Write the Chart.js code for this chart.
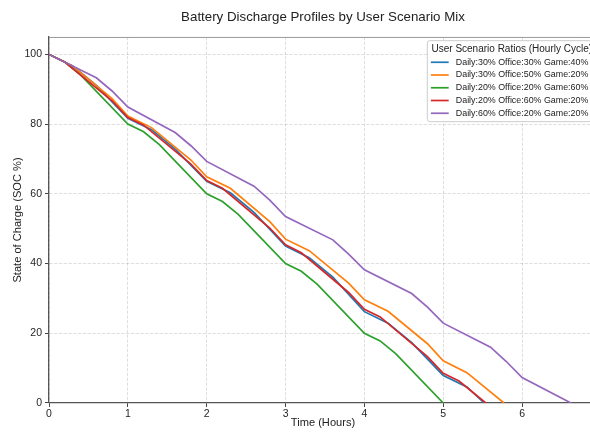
<!DOCTYPE html>
<html>
<head>
<meta charset="utf-8">
<script src="https://cdn.jsdelivr.net/npm/chart.js@4.4.1/dist/chart.umd.min.js"></script>
<style>
  html, body { margin: 0; padding: 0; background: #fff; overflow: hidden; }
  #wrap { width: 590px; height: 435px; overflow: hidden; }
</style>
</head>
<body>
<div id="wrap"><canvas id="dischargeChart" width="597" height="435"></canvas></div>
<script>
// Scenario names (legend) and colours
const scenarioLabels = [
    'Daily:30% Office:30% Game:40%',
    'Daily:30% Office:50% Game:20%',
    'Daily:20% Office:20% Game:60%',
    'Daily:20% Office:60% Game:20%',
    'Daily:60% Office:20% Game:20%'
];
const scenarioColors = ['#1f77b4', '#ff7f0e', '#2ca02c', '#d62728', '#9467bd'];

// [hours, SOC %]
const mix303040 = [[0,100],[0.3,96.7],[0.6,91.1],[1,81.7],[1.3,78.4],[1.6,72.8],[2,63.6],[2.3,60.3],[2.6,54.7],[3,45.0],[3.3,41.7],[3.6,36.1],[4,26.2],[4.3,22.9],[4.6,17.3],[5,7.9],[5.3,4.6],[5.52,0]];
const mix305020 = [[0,100],[0.3,96.7],[0.8,87.3],[1,82.3],[1.3,79.0],[1.8,69.7],[2,64.9],[2.3,61.6],[2.8,52.0],[3,47.0],[3.3,43.7],[3.8,34.4],[4,29.6],[4.3,26.3],[4.8,17.0],[5,12.1],[5.3,8.7],[5.77,0]];
const mix202060 = [[0,100],[0.2,97.8],[0.4,94.1],[1,80],[1.2,77.8],[1.4,74.1],[2,60],[2.2,57.8],[2.4,54.1],[3,40],[3.2,37.8],[3.4,34.1],[4,20],[4.2,17.8],[4.4,14.1],[5,0]];
const mix206020 = [[0,100],[0.2,97.8],[0.8,86.7],[1,81.9],[1.2,79.7],[1.8,68.5],[2,63.8],[2.2,61.6],[2.8,50.2],[3,45.4],[3.2,43.1],[3.8,31.7],[4,26.9],[4.2,24.7],[4.8,13.3],[5,8.5],[5.2,6.3],[5.54,0]];
const mix602020 = [[0,100],[0.6,93.3],[0.8,89.5],[1,84.9],[1.6,77.6],[1.8,73.8],[2,69.3],[2.6,62.2],[2.8,58.2],[3,53.5],[3.6,46.8],[3.8,42.7],[4,38.2],[4.6,31.4],[4.8,27.5],[5,22.9],[5.6,16.0],[5.8,11.9],[6,7.3],[6.62,0]];

const xTicks = [0, 1, 2, 3, 4, 5, 6];
const yTicks = [0, 20, 40, 60, 80, 100];

const FONT = "'Liberation Sans', Arial, sans-serif";
const allSeries = [mix303040, mix305020, mix202060, mix206020, mix602020];

// Legend drawn inside the plot, upper right
const boxLegend = {
    id: 'boxLegend',
    afterDraw(chart) {
        const { ctx, chartArea } = chart;
        const x0 = chartArea.right - 169.7;
        const y0 = chartArea.top + 3.7;
        ctx.save();
        ctx.beginPath();
        ctx.roundRect(x0, y0, 164, 81, 2.5);
        ctx.fillStyle = 'rgba(255,255,255,0.85)';
        ctx.fill();
        ctx.strokeStyle = '#cccccc';
        ctx.lineWidth = 1;
        ctx.stroke();

        ctx.fillStyle = '#222';
        ctx.textAlign = 'left';
        ctx.textBaseline = 'middle';
        ctx.font = '10px ' + FONT;
        ctx.fillText('User Scenario Ratios (Hourly Cycle)', x0 + 4.2, y0 + 8.6);

        ctx.font = '8.9px ' + FONT;
        chart.data.datasets.forEach((ds, i) => {
            const y = y0 + 21.6 + i * 12.75;
            ctx.beginPath();
            ctx.moveTo(x0 + 3.6, y);
            ctx.lineTo(x0 + 21.4, y);
            ctx.strokeStyle = ds.borderColor;
            ctx.lineWidth = 1.7;
            ctx.stroke();
            ctx.fillStyle = '#222';
            ctx.fillText(ds.label, x0 + 28.5, y);
        });
        ctx.restore();
    }
};

// Thin frame line along the top of the plot
const topFrame = {
    id: 'topFrame',
    afterDatasetsDraw(chart) {
        const { ctx, chartArea } = chart;
        ctx.save();
        ctx.beginPath();
        ctx.moveTo(chartArea.left, chartArea.top + 0.5);
        ctx.lineTo(chartArea.right, chartArea.top + 0.5);
        ctx.strokeStyle = '#999';
        ctx.lineWidth = 1;
        ctx.stroke();
        ctx.restore();
    }
};

const ctx = document.getElementById('dischargeChart').getContext('2d');
const dischargeChart = new Chart(ctx, {
    type: 'line',
    data: {
        datasets: allSeries.map((series, i) => ({
            label: scenarioLabels[i],
            data: series.map(p => ({ x: p[0], y: p[1] })),
            borderColor: scenarioColors[i],
            backgroundColor: scenarioColors[i],
            borderWidth: 1.7,
            pointRadius: 0,
            tension: 0,
            fill: false,
            order: allSeries.length - 1 - i
        }))
    },
    options: {
        responsive: false,
        animation: false,
        devicePixelRatio: 1,
        layout: { padding: 0 },
        plugins: {
            legend: { display: false },
            tooltip: { enabled: false },
            title: {
                display: true,
                fullSize: false,
                text: 'Battery Discharge Profiles by User Scenario Mix',
                color: '#222',
                font: { family: FONT, size: 13.3, weight: 'normal' },
                padding: { top: 9, bottom: 12 }
            }
        },
        scales: {
            x: {
                type: 'linear',
                min: 0,
                max: 6.95,
                afterBuildTicks: s => { s.ticks = xTicks.map(v => ({ value: v })); },
                afterFit: s => { s.height = 32; },
                ticks: { color: '#262626', font: { family: FONT, size: 10.5 }, padding: 1, maxRotation: 0 },
                grid: { color: 'rgba(0,0,0,0.14)', lineWidth: 0.9, tickColor: '#444', tickLength: 4, tickWidth: 1 },
                border: { color: '#555', width: 1.3, dash: [3.3, 1.5] },
                title: { display: true, text: 'Time (Hours)', color: '#222', font: { family: FONT, size: 11.1 }, padding: { top: 0, bottom: 5 } }
            },
            y: {
                min: 0,
                max: 105,
                afterBuildTicks: s => { s.ticks = yTicks.map(v => ({ value: v })); },
                afterFit: s => { s.width = 49; },
                ticks: { color: '#262626', font: { family: FONT, size: 10.5 }, padding: 3 },
                grid: { color: 'rgba(0,0,0,0.14)', lineWidth: 0.9, tickColor: '#444', tickLength: 4, tickWidth: 1 },
                border: { color: '#555', width: 1.3, dash: [3.3, 1.5] },
                title: { display: true, text: 'State of Charge (SOC %)', color: '#222', font: { family: FONT, size: 11.1 }, padding: { top: 11.5, bottom: 4 } }
            }
        }
    },
    plugins: [topFrame, boxLegend]
});
</script>
</body>
</html>
